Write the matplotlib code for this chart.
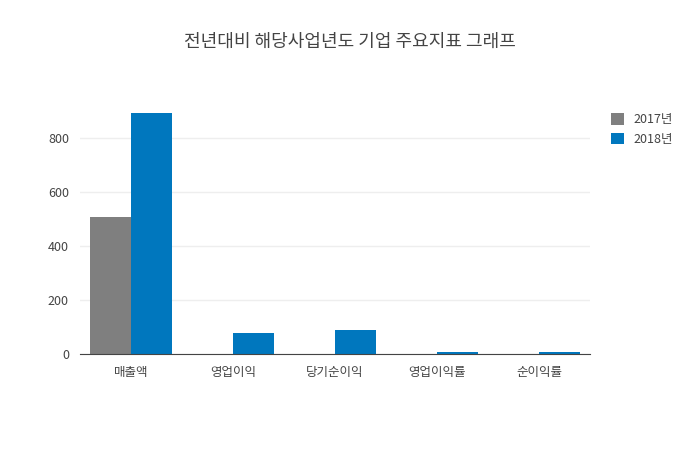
import matplotlib
matplotlib.use("Agg")
import matplotlib.pyplot as plt
import numpy as np

plt.rcParams['font.family'] = ['Noto Sans CJK JP', 'Noto Sans CJK KR', 'Noto Sans CJK SC', 'DejaVu Sans']

categories = ["매출액", "영업이익", "당기순이익", "영업이익률", "순이익률"]
series_names = ["2017년", "2018년"]
values_2017 = [509, -3, -1, -0.5, -0.5]
values_2018 = [890, 81, 92, 9, 10]
colors = ["#7f7f7f", "#0077be"]

fig = plt.figure(figsize=(7, 4.5), dpi=100)
ax = fig.add_axes([80/700, 1-355/450, 510/700, 285/450])
x = np.arange(len(categories))
w = 0.4
ax.bar(x - w/2, values_2017, w, color=colors[0], label=series_names[0])
ax.bar(x + w/2, values_2018, w, color=colors[1], label=series_names[1])
ax.set_xlim(-0.5, 4.5)
ax.set_ylim(-2, 1050)
ax.set_yticks([0, 200, 400, 600, 800])
ax.set_xticks(x)
ax.set_xticklabels(categories)
ax.tick_params(length=0, labelsize=9, colors="#444444", pad=8)
ax.grid(axis='y', color='#eeeeee', linewidth=1)
ax.set_axisbelow(True)
for s in ['top', 'right', 'left']:
    ax.spines[s].set_visible(False)
ax.spines['bottom'].set_color('#444444')
ax.spines['bottom'].set_position(('data', 0))
fig.suptitle("전년대비 해당사업년도 기업 주요지표 그래프", x=0.5, y=1-42/450, fontsize=13, color="#444444", va='center')
fig.legend(loc='upper left', bbox_to_anchor=(600/700, 1-102/450), frameon=False, fontsize=9,
           handlelength=1, handleheight=1, labelcolor="#444444")
fig.savefig("out.png", dpi=100)
